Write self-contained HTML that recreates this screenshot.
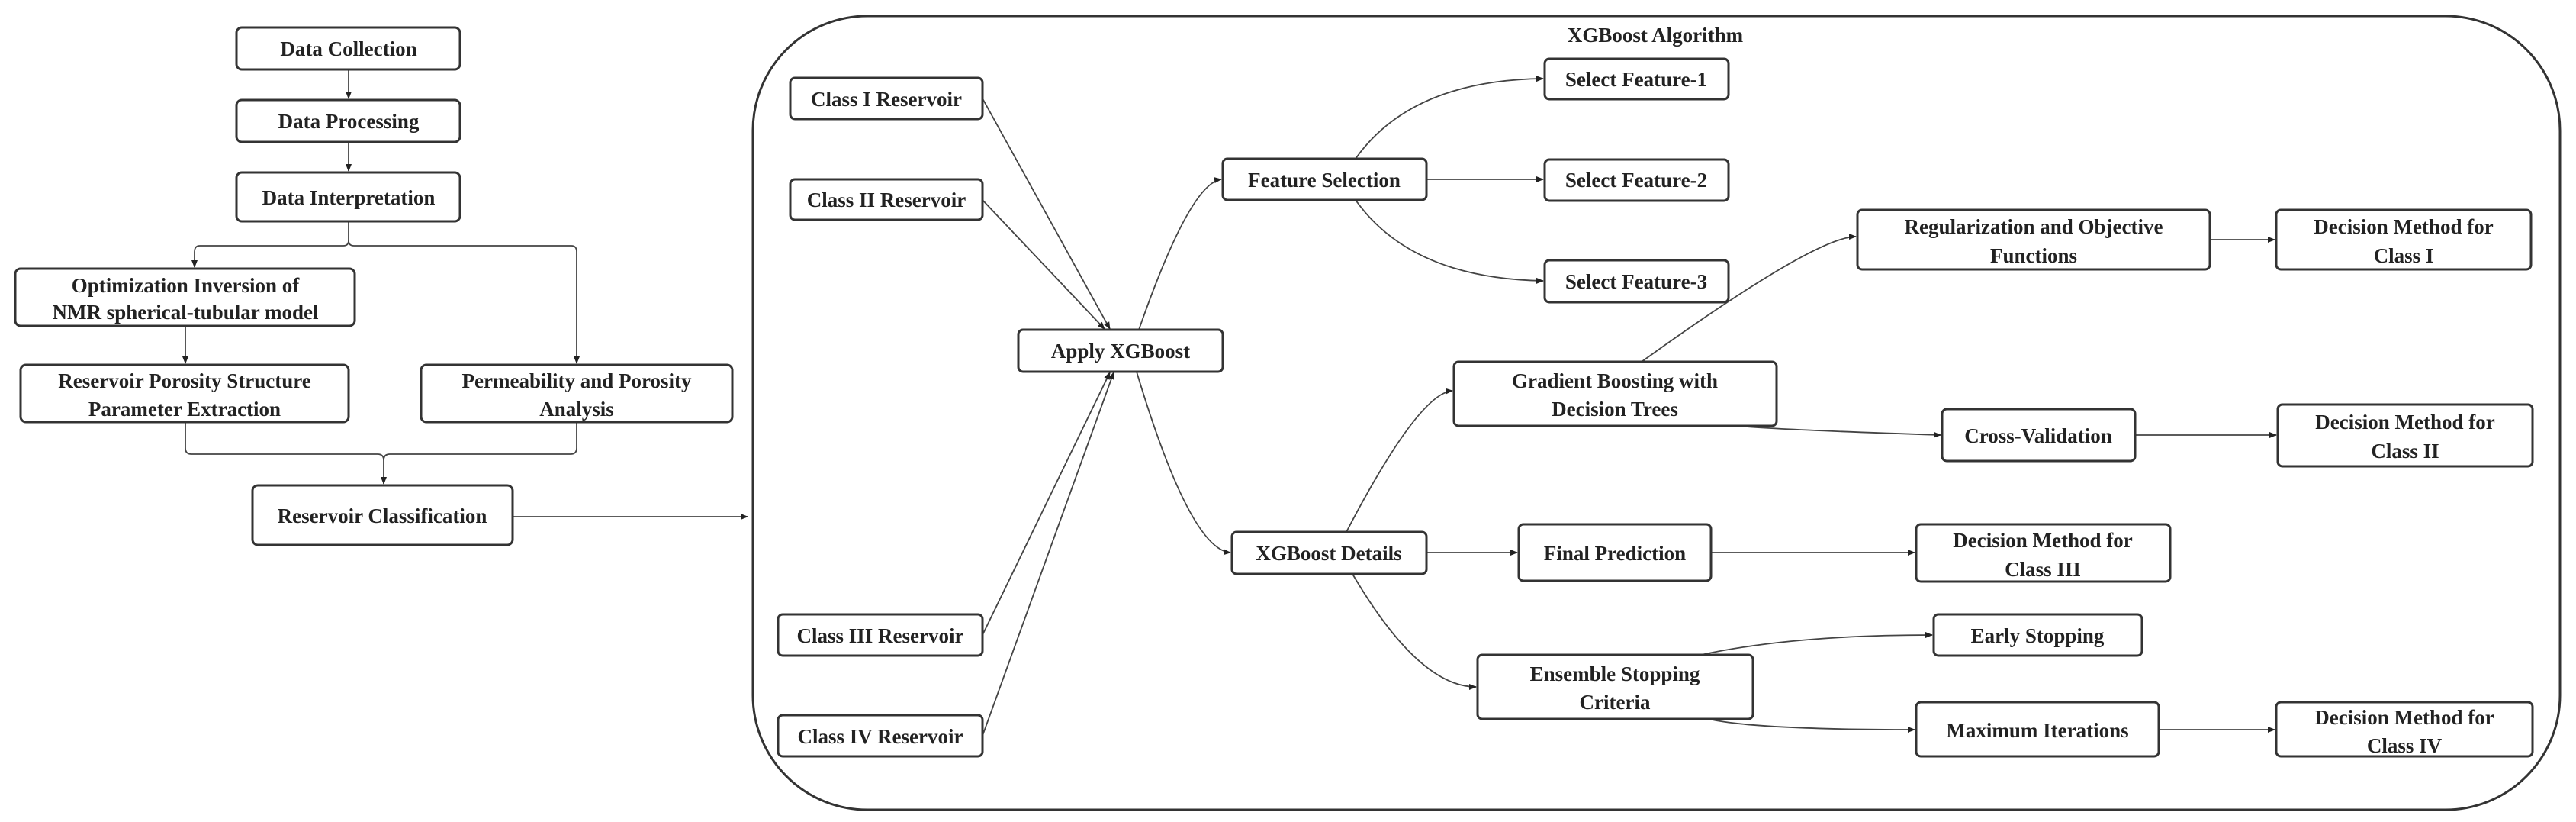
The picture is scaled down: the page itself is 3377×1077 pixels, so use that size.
<!DOCTYPE html>
<html><head><meta charset="utf-8"><style>
html,body{margin:0;padding:0;background:#fff;}
svg{display:block;}
text{font-family:"Liberation Serif",serif;font-weight:bold;font-size:27px;fill:#222;text-anchor:middle;}
.b{fill:#fff;stroke:#333;stroke-width:3;}
.l{fill:none;stroke:#444;stroke-width:1.8;}
</style></head><body>
<svg width="3377" height="1077" viewBox="0 0 3377 1077" xmlns="http://www.w3.org/2000/svg">
<defs><marker id="a" markerWidth="10" markerHeight="10" refX="9" refY="5" orient="auto" markerUnits="userSpaceOnUse"><path d="M0,1 L10,5 L0,9 z" fill="#222"/></marker></defs>

<!-- container -->
<rect x="987" y="21" width="2369" height="1040" rx="150" ry="150" fill="none" stroke="#333" stroke-width="3"/>
<text x="2170" y="55">XGBoost Algorithm</text>

<!-- left flow connectors -->
<path class="l" d="M457,91 V129" marker-end="url(#a)"/>
<path class="l" d="M457,186 V224" marker-end="url(#a)"/>
<path class="l" d="M457,290 V315 Q457,322 450,322 H262 Q255,322 255,330 V350" marker-end="url(#a)"/>
<path class="l" d="M457,315 Q457,322 464,322 H749 Q756,322 756,330 V476" marker-end="url(#a)"/>
<path class="l" d="M243,427 V476" marker-end="url(#a)"/>
<path class="l" d="M243,553 V587 Q243,595 251,595 H495 Q503,595 503,603 V634" marker-end="url(#a)"/>
<path class="l" d="M756,553 V587 Q756,595 748,595 H511 Q503,595 503,603"/>
<path class="l" d="M672,677 H980" marker-end="url(#a)"/>

<!-- left boxes -->
<rect class="b" x="310" y="36" width="293" height="55" rx="7"/><text x="457" y="73">Data Collection</text>
<rect class="b" x="310" y="131" width="293" height="55" rx="7"/><text x="457" y="168">Data Processing</text>
<rect class="b" x="310" y="226" width="293" height="64" rx="7"/><text x="457" y="268">Data Interpretation</text>
<rect class="b" x="20" y="352" width="445" height="75" rx="7"/><text x="243" y="383">Optimization Inversion of</text><text x="243" y="418">NMR spherical-tubular model</text>
<rect class="b" x="27" y="478" width="430" height="75" rx="7"/><text x="242" y="508">Reservoir Porosity Structure</text><text x="242" y="545">Parameter Extraction</text>
<rect class="b" x="552" y="478" width="408" height="75" rx="7"/><text x="756" y="508">Permeability and Porosity</text><text x="756" y="545">Analysis</text>
<rect class="b" x="331" y="636" width="341" height="78" rx="7"/><text x="501" y="685">Reservoir Classification</text>

<!-- right connectors -->
<path class="l" d="M1288,129 L1455,431" marker-end="url(#a)"/>
<path class="l" d="M1288,262 L1448,431" marker-end="url(#a)"/>
<path class="l" d="M1288,832 L1455,488" marker-end="url(#a)"/>
<path class="l" d="M1288,964 L1460,488" marker-end="url(#a)"/>
<path class="l" d="M1493,432 Q1560,240 1601,235" marker-end="url(#a)"/>
<path class="l" d="M1490,487 Q1560,720 1613,724" marker-end="url(#a)"/>
<path class="l" d="M1777,208 Q1850,105 2023,103" marker-end="url(#a)"/>
<path class="l" d="M1870,235 H2023" marker-end="url(#a)"/>
<path class="l" d="M1777,262 Q1850,365 2023,368" marker-end="url(#a)"/>
<path class="l" d="M1765,697 Q1860,515 1904,512" marker-end="url(#a)"/>
<path class="l" d="M1870,724 H1989" marker-end="url(#a)"/>
<path class="l" d="M1773,752 Q1860,900 1935,900" marker-end="url(#a)"/>
<path class="l" d="M2152,474 Q2380,310 2433,310" marker-end="url(#a)"/>
<path class="l" d="M2897,314 H2982" marker-end="url(#a)"/>
<path class="l" d="M2270,557 Q2300,562 2544,570" marker-end="url(#a)"/>
<path class="l" d="M2799,570 H2984" marker-end="url(#a)"/>
<path class="l" d="M2243,724 H2510" marker-end="url(#a)"/>
<path class="l" d="M2230,858 Q2350,832 2533,832" marker-end="url(#a)"/>
<path class="l" d="M2240,942 Q2300,956 2510,956" marker-end="url(#a)"/>
<path class="l" d="M2830,956 H2982" marker-end="url(#a)"/>

<!-- right boxes -->
<rect class="b" x="1036" y="102" width="252" height="54" rx="6"/><text x="1162" y="139">Class I Reservoir</text>
<rect class="b" x="1036" y="235" width="252" height="53" rx="6"/><text x="1162" y="271">Class II Reservoir</text>
<rect class="b" x="1020" y="805" width="268" height="54" rx="6"/><text x="1154" y="842">Class III Reservoir</text>
<rect class="b" x="1020" y="937" width="268" height="54" rx="6"/><text x="1154" y="974">Class IV Reservoir</text>
<rect class="b" x="1335" y="432" width="268" height="55" rx="6"/><text x="1469" y="469">Apply XGBoost</text>
<rect class="b" x="1603" y="208" width="267" height="54" rx="6"/><text x="1736" y="245">Feature Selection</text>
<rect class="b" x="1615" y="697" width="255" height="55" rx="6"/><text x="1742" y="734">XGBoost Details</text>
<rect class="b" x="2025" y="77" width="241" height="53" rx="6"/><text x="2145" y="113">Select Feature-1</text>
<rect class="b" x="2025" y="209" width="241" height="54" rx="6"/><text x="2145" y="245">Select Feature-2</text>
<rect class="b" x="2025" y="341" width="241" height="55" rx="6"/><text x="2145" y="378">Select Feature-3</text>
<rect class="b" x="1906" y="474" width="423" height="84" rx="6"/><text x="2117" y="508">Gradient Boosting with</text><text x="2117" y="545">Decision Trees</text>
<rect class="b" x="1991" y="687" width="252" height="74" rx="6"/><text x="2117" y="734">Final Prediction</text>
<rect class="b" x="1937" y="858" width="361" height="84" rx="6"/><text x="2117" y="892">Ensemble Stopping</text><text x="2117" y="929">Criteria</text>
<rect class="b" x="2435" y="275" width="462" height="78" rx="6"/><text x="2666" y="306">Regularization and Objective</text><text x="2666" y="344">Functions</text>
<rect class="b" x="2984" y="275" width="334" height="78" rx="6"/><text x="3151" y="306">Decision Method for</text><text x="3151" y="344">Class I</text>
<rect class="b" x="2546" y="536" width="253" height="68" rx="6"/><text x="2672" y="580">Cross-Validation</text>
<rect class="b" x="2986" y="530" width="334" height="81" rx="6"/><text x="3153" y="562">Decision Method for</text><text x="3153" y="600">Class II</text>
<rect class="b" x="2512" y="687" width="333" height="75" rx="6"/><text x="2678" y="717">Decision Method for</text><text x="2678" y="755">Class  III</text>
<rect class="b" x="2535" y="805" width="273" height="54" rx="6"/><text x="2671" y="842">Early Stopping</text>
<rect class="b" x="2512" y="920" width="318" height="71" rx="6"/><text x="2671" y="966">Maximum Iterations</text>
<rect class="b" x="2984" y="920" width="336" height="71" rx="6"/><text x="3152" y="949">Decision Method for</text><text x="3152" y="986">Class IV</text>
</svg>
</body></html>
